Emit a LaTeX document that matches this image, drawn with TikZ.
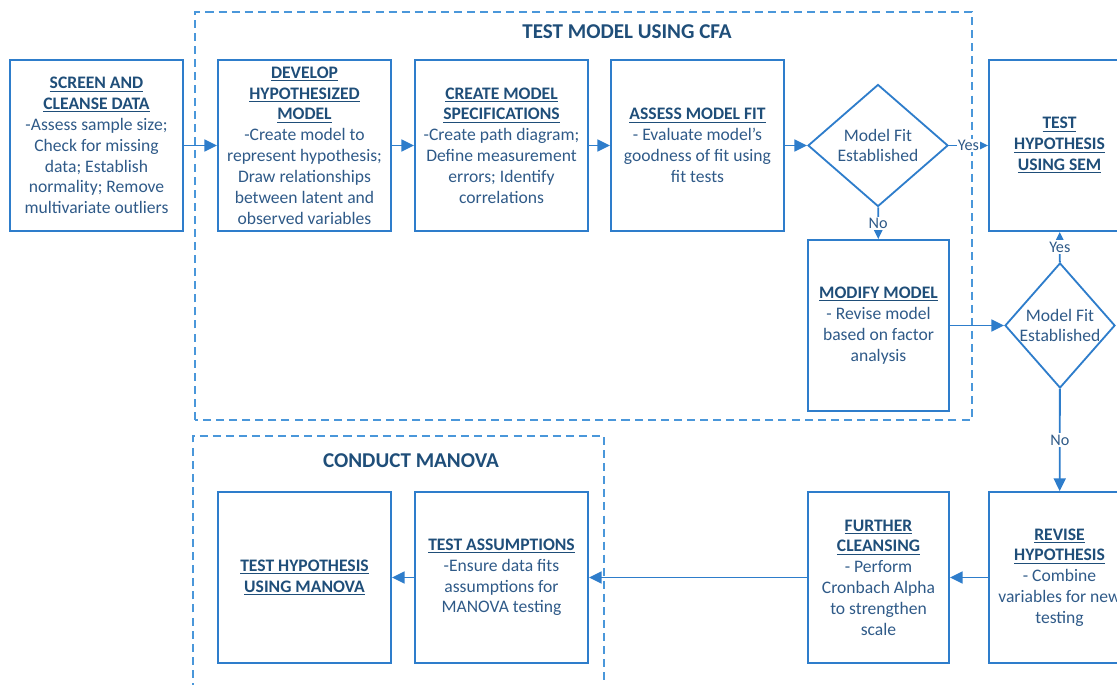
\documentclass[tikz,border=0pt]{standalone}
\usepackage{fontspec}
\setmainfont{Carlito}
\usetikzlibrary{shapes.geometric, arrows.meta}

\definecolor{boxblue}{HTML}{2E7DCB}
\definecolor{dashblue}{HTML}{4A97DA}
\definecolor{headblue}{HTML}{1F4E79}
\definecolor{bodyblue}{HTML}{2F5A88}

\newcommand{\boxhead}[1]{\textbf{\textcolor{headblue}{\underline{#1}}}}

\tikzset{
  stepbox/.style={draw=boxblue, line width=1.3pt, minimum width=4.325cm, minimum height=4.275cm,
    align=center, text=bodyblue, font=\fontsize{12.5}{14.8}\selectfont, inner sep=1pt},
  narrowbox/.style={stepbox, minimum width=3.525cm},
  fitcheck/.style={diamond, draw=boxblue, line width=1.3pt, align=center, text=bodyblue,
    font=\fontsize{12.5}{14.8}\selectfont, inner sep=0pt},
  flow/.style={draw=boxblue, line width=1.3pt, -{Triangle[length=9pt, width=8.5pt]}},
  group/.style={draw=dashblue, line width=1.4pt, dash pattern=on 5.7pt off 3.6pt},
  grouptitle/.style={font=\fontsize{15}{17}\selectfont\bfseries, text=headblue},
  answer/.style={fill=white, inner sep=1pt, font=\fontsize{11.5}{13}\selectfont, text=bodyblue}
}

\begin{document}
\begin{tikzpicture}[x=0.025cm, y=0.025cm]
\useasboundingbox (0,0) rectangle (1117,684);
\clip (0,0) rectangle (1117,684);

% dashed groups and their titles
\draw[group] (195,264) rectangle (972,672);
\draw[group] (193,-20) rectangle (604,248);
\node[grouptitle] (cfatitle) at (627,652) {TEST MODEL USING CFA};
\node[grouptitle] (manovatitle) at (411,223) {CONDUCT MANOVA};

% top row
\node[stepbox] (screen) at (96.5,538.5) {\boxhead{SCREEN AND}\\ \boxhead{CLEANSE DATA}\\
  -Assess sample size;\\ Check for missing\\ data; Establish\\ normality; Remove\\ multivariate outliers};
\node[stepbox] (develop) at (304.5,538.5) {\boxhead{DEVELOP}\\ \boxhead{HYPOTHESIZED}\\ \boxhead{MODEL}\\
  -Create model to\\ represent hypothesis;\\ Draw relationships\\ between latent and\\ observed variables};
\node[stepbox] (create) at (501.5,538.5) {\boxhead{CREATE MODEL}\\ \boxhead{SPECIFICATIONS}\\
  -Create path diagram;\\ Define measurement\\ errors; Identify\\ correlations};
\node[stepbox] (assess) at (697.5,538.5) {\boxhead{ASSESS MODEL FIT}\\
  - Evaluate model’s\\ goodness of fit using\\ fit tests};
\node[fitcheck, minimum width=3.5cm, minimum height=3.05cm] (fitone) at (878,538.5) {Model Fit\\ Established};
\node[narrowbox] (sem) at (1059.5,538.5) {\boxhead{TEST}\\ \boxhead{HYPOTHESIS}\\ \boxhead{USING SEM}};

% middle row
\node[narrowbox] (modify) at (878.5,358.5) {\boxhead{MODIFY MODEL}\\
  - Revise model\\ based on factor\\ analysis};
\node[fitcheck, minimum width=2.75cm, minimum height=3.125cm, inner xsep=-10pt] (fittwo) at (1060,358.5) {Model Fit\\ Established};

% bottom row
\node[narrowbox] (revise) at (1059.5,106.5) {\boxhead{REVISE}\\ \boxhead{HYPOTHESIS}\\
  - Combine\\ variables for new\\ testing};
\node[narrowbox] (further) at (878.5,106.5) {\boxhead{FURTHER}\\ \boxhead{CLEANSING}\\
  - Perform\\ Cronbach Alpha\\ to strengthen\\ scale};
\node[stepbox] (assump) at (501.5,106.5) {\boxhead{TEST ASSUMPTIONS}\\
  -Ensure data fits\\ assumptions for\\ MANOVA testing};
\node[stepbox] (manova) at (304.5,106.5) {\boxhead{TEST HYPOTHESIS}\\ \boxhead{USING MANOVA}};

% connectors
\draw[flow] (screen) -- (develop);
\draw[flow] (develop) -- (create);
\draw[flow] (create) -- (assess);
\draw[flow] (assess) -- (fitone);
\draw[flow] (fitone) -- node[answer] {Yes} (sem);
\draw[flow] (fitone) -- node[answer] {No} (modify);
\draw[flow] (modify) -- (fittwo);
\draw[flow] (fittwo) -- node[answer] {Yes} (sem);
\draw[flow] (fittwo) -- node[answer] {No} (revise);
\draw[flow] (revise) -- (further);
\draw[flow] (further) -- (assump);
\draw[flow] (assump) -- (manova);
\end{tikzpicture}
\end{document}
